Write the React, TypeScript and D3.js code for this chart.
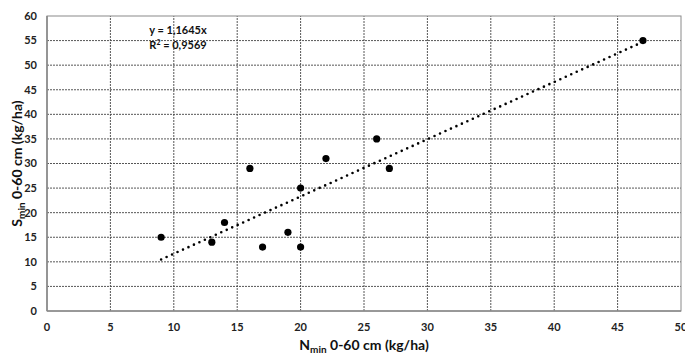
import React from "react";
import * as d3 from "d3";

const nValues = [9, 13, 14, 16, 17, 19, 20, 20, 22, 26, 27, 47];
const sValues = [15, 14, 18, 29, 13, 16, 25, 13, 31, 35, 29, 55];
const xTicks = [0, 5, 10, 15, 20, 25, 30, 35, 40, 45, 50];
const yTicks = [0, 5, 10, 15, 20, 25, 30, 35, 40, 45, 50, 55, 60];
const slope = 1.1645;
const r2Text = "0,9569";
const slopeText = "1,1645";

const W = 685;
const H = 354;
const margin = { left: 47, right: 4, top: 16, bottom: 43 };
const FONT = "Lato, 'Open Sans', sans-serif";

export default function App() {
  const x = d3.scaleLinear().domain([0, 50]).range([margin.left, W - margin.right]);
  const y = d3.scaleLinear().domain([0, 60]).range([H - margin.bottom, margin.top]);
  const xMinFit = d3.min(nValues) as number;
  const xMaxFit = d3.max(nValues) as number;
  const line = d3.line<number>().x((d) => x(d)).y((d) => y(slope * d));
  const pts = nValues.map((n, i) => ({ n, s: sValues[i] }));
  const x0 = x(0), x1 = x(50), y0 = y(0), y1 = y(60);

  return (
    <svg width={W} height={H} style={{ position: "absolute", left: 0, top: 0, background: "#fff" }} fontFamily={FONT}>
      <rect x={0} y={0} width={W} height={H} fill="#fff" />
      {/* grid */}
      {yTicks.filter((t) => t > 0 && t < 60).map((t) => (
        <line key={"gy" + t} x1={x0} x2={x1} y1={y(t)} y2={y(t)} stroke="#444" strokeWidth={0.9} strokeDasharray="2,1" />
      ))}
      {xTicks.filter((t) => t > 0 && t < 50).map((t) => (
        <line key={"gx" + t} x1={x(t)} x2={x(t)} y1={y0} y2={y1} stroke="#444" strokeWidth={0.9} strokeDasharray="2,1" />
      ))}
      {/* border */}
      <rect x={x0} y={y1} width={x1 - x0} height={y0 - y1} fill="none" stroke="#8a8a8a" strokeWidth={1} />
      <line x1={x0} x2={x1} y1={y0} y2={y0} stroke="#8a8a8a" strokeWidth={1.6} />
      <line x1={x0} x2={x0} y1={y0} y2={y1} stroke="#8a8a8a" strokeWidth={1.6} />
      {/* trend line */}
      <path d={line([xMinFit, xMaxFit]) || ""} fill="none" stroke="#000" strokeWidth={2.6} strokeLinecap="round" strokeDasharray="0,6" />
      {/* points */}
      {pts.map((p, i) => (
        <circle key={i} cx={x(p.n)} cy={y(p.s)} r={3.6} fill="#000" />
      ))}
      {/* tick labels */}
      {yTicks.map((t) => (
        <text key={"ty" + t} x={37} y={y(t)} dy="0.35em" textAnchor="end" fontSize={11} fontWeight="bold" fill="#222">{t}</text>
      ))}
      {xTicks.map((t) => (
        <text key={"tx" + t} x={x(t)} y={327} dy="0.35em" textAnchor="middle" fontSize={11} fontWeight="bold" fill="#222">{t}</text>
      ))}
      {/* equation */}
      <text x={178} y={30} dy="0.35em" textAnchor="middle" fontSize={11} fontWeight="bold" fill="#111">y = {slopeText}x</text>
      <text x={178} y={45} dy="0.35em" textAnchor="middle" fontSize={11} fontWeight="bold" fill="#111">
        R<tspan dy="-4" fontSize={7}>2</tspan><tspan dy="4"> = {r2Text}</tspan>
      </text>
      {/* axis titles */}
      <text x={364} y={350} textAnchor="middle" fontSize={14} fontWeight="bold" fill="#111">
        N<tspan dy="3" fontSize={10}>min</tspan><tspan dy="-3"> 0-60 cm (kg/ha)</tspan>
      </text>
      <text transform={`translate(22,${(y0 + y1) / 2}) rotate(-90)`} textAnchor="middle" fontSize={14} fontWeight="bold" fill="#111">
        S<tspan dy="3" fontSize={10}>min</tspan><tspan dy="-3"> 0-60 cm (kg/ha)</tspan>
      </text>
    </svg>
  );
}
